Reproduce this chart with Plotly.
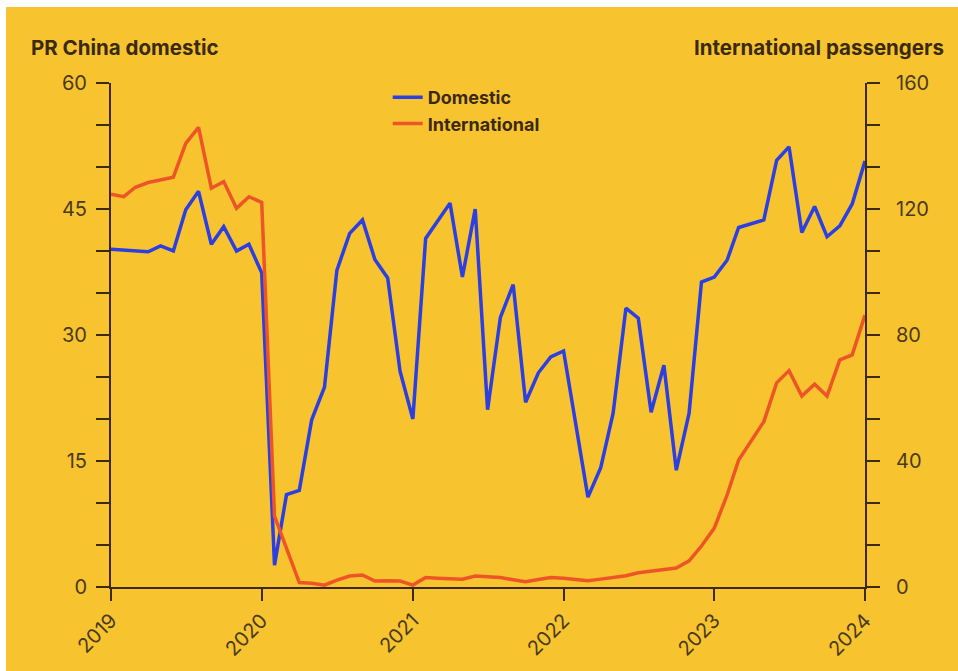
import pandas as pd
import plotly.graph_objects as go

# Monthly observations, Jan 2019 - Jan 2024 (None = month not reported)
months = pd.date_range("2019-01-01", "2024-01-01", freq="MS")

domestic = [
    40.2, None, None, 39.9, 40.6, 40.0, 44.9, 47.1, 40.8, 42.9, 40.0, 40.8,   # 2019
    37.4, 2.6, 11.0, 11.5, 19.9, 23.8, 37.7, 42.1, 43.7, 39.0, 36.8, 25.7,    # 2020
    20.0, 41.5, None, 45.7, 36.9, 45.0, 21.1, 32.1, 36.0, 22.0, 25.5, 27.4,   # 2021
    28.1, None, 10.7, 14.2, 20.7, 33.2, 32.0, 20.8, 26.4, 13.9, 20.7, 36.3,   # 2022
    36.9, 38.9, 42.8, None, 43.7, 50.8, 52.4, 42.2, 45.3, 41.7, 43.0, 45.6,   # 2023
    50.7,                                                                      # 2024
]

international = [
    124.7, 123.9, 126.9, 128.4, None, 130.1, 140.8, 145.9, 126.6, 128.7, 120.2, 123.9,  # 2019
    122.1, 22.5, None, 1.4, 1.2, 0.6, 2.2, 3.5, 3.8, 1.9, 2.0, 1.9,                     # 2020
    0.6, 3.0, 2.8, 2.7, 2.5, 3.5, 3.3, 3.0, 2.3, 1.7, 2.4, 3.0,                         # 2021
    2.8, 2.4, 2.0, 2.5, 3.0, 3.6, 4.5, 5.0, 5.7, 6.0, 8.3, 13.0,                        # 2022
    18.7, 29.2, 40.3, 46.7, 52.5, 64.8, 68.7, 60.6, 64.4, 60.6, 72.1, 73.7,             # 2023
    86.3,                                                                                # 2024
]

year_ticks = ["2019-01-01", "2020-01-01", "2021-01-01", "2022-01-01", "2023-01-01", "2024-01-01"]
year_labels = ["2019", "2020", "2021", "2022", "2023", "2024"]

BG = "#F7C430"
INK = "#3b2a10"
TICK_INK = "#4a3a1c"
BLUE = "#2B3FE3"
ORANGE = "#EE5526"
FONT = "Inter"

fig = go.Figure()
fig.add_trace(go.Scatter(
    x=months, y=domestic, name="Domestic", mode="lines",
    line=dict(color=BLUE, width=3.5), connectgaps=True, yaxis="y",
))
fig.add_trace(go.Scatter(
    x=months, y=international, name="International", mode="lines",
    line=dict(color=ORANGE, width=3.5), connectgaps=True, yaxis="y2",
))

axis_common = dict(
    showline=True, linecolor=INK, linewidth=2,
    ticks="outside", ticklen=13, tickwidth=2, tickcolor=INK,
    showgrid=False, zeroline=False, automargin=False,
    tickfont=dict(family=FONT, size=20, color=TICK_INK),
)

fig.update_layout(
    width=958, height=671,
    margin=dict(l=111, r=93, t=83, b=84),
    paper_bgcolor="white",
    plot_bgcolor=BG,
    font=dict(family=FONT, color=INK),
    showlegend=True,
    legend=dict(
        x=0.367, y=1.008, xanchor="left", yanchor="top",
        bgcolor="rgba(0,0,0,0)",
        font=dict(family=FONT, size=18, color=INK, weight=700),
        tracegroupgap=0,
    ),
    xaxis=dict(
        type="date",
        range=[year_ticks[0], year_ticks[-1]],
        tickvals=year_ticks, ticktext=year_labels,
        tickangle=-45,
        ticklabelstandoff=0,
        **{**axis_common, "ticklen": 12},
    ),
    yaxis=dict(
        range=[0, 60], dtick=15, side="left",
        minor=dict(dtick=5, ticks="outside", ticklen=13, tickwidth=2, tickcolor=INK),
        ticklabelstandoff=5,
        **axis_common,
    ),
    yaxis2=dict(
        range=[0, 160], dtick=40, side="right", overlaying="y",
        minor=dict(dtick=40 / 3, ticks="outside", ticklen=13, tickwidth=2, tickcolor=INK),
        ticklabelstandoff=12,
        **axis_common,
    ),
    shapes=[
        # yellow card behind the whole figure, leaving a thin white edge top/left
        dict(type="rect", xref="paper", yref="paper", layer="below",
             x0=(6 - 111) / 754, x1=(958 - 111) / 754 + 0.01,
             y0=(587 - 671) / 504 - 0.01, y1=(587 - 7) / 504,
             fillcolor=BG, line=dict(width=0)),
    ],
    annotations=[
        dict(text="PR China domestic", xref="paper", yref="paper",
             x=(29 - 111) / 754, y=(587 - 47) / 504, xanchor="left", yanchor="middle",
             showarrow=False, font=dict(family=FONT, size=20.5, color=INK, weight=700)),
        dict(text="International passengers", xref="paper", yref="paper",
             x=(946 - 111) / 754, y=(587 - 47) / 504, xanchor="right", yanchor="middle",
             showarrow=False, font=dict(family=FONT, size=20.5, color=INK, weight=700)),
    ],
)

fig.write_html("out.html")
